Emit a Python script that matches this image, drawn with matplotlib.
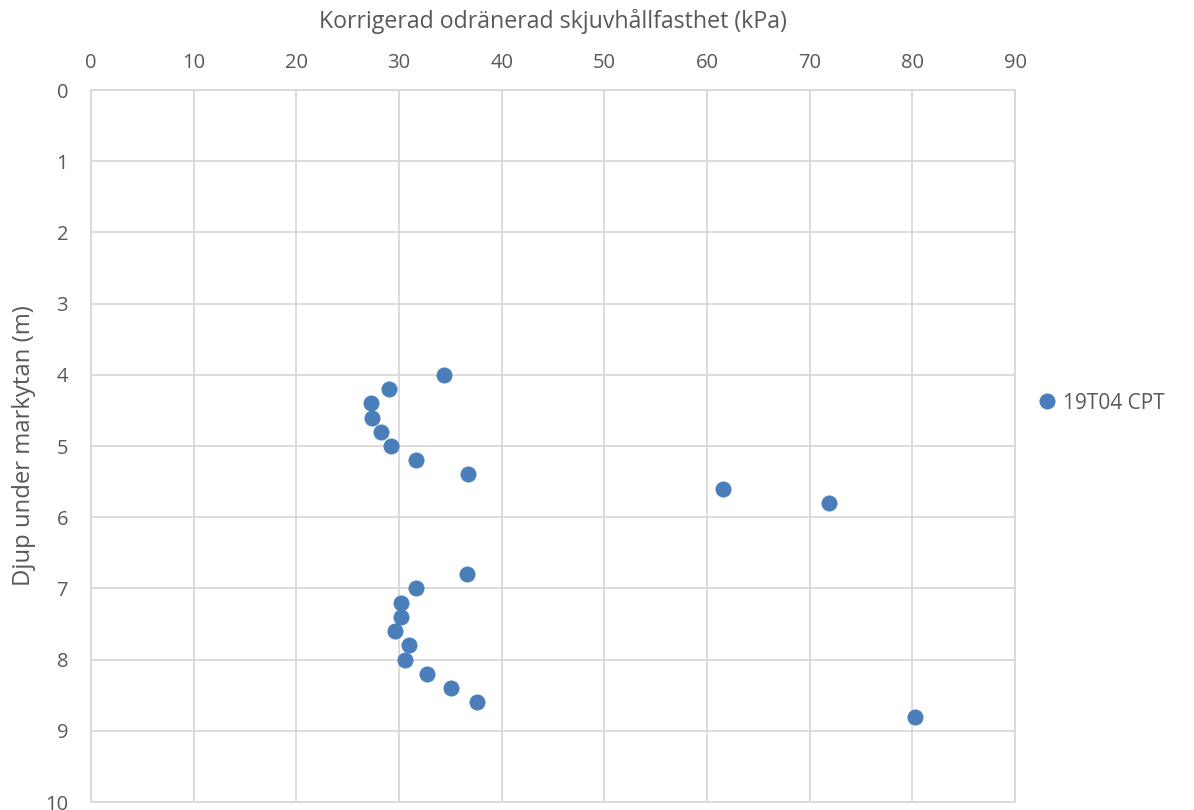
import matplotlib
matplotlib.use("Agg")
import matplotlib.pyplot as plt

# Corrected undrained shear strength (kPa) vs depth below ground surface (m)
series_name = "19T04 CPT"
depth_m = [4.0, 4.2, 4.4, 4.6, 4.8, 5.0, 5.2, 5.4, 5.6, 5.8,
           6.8, 7.0, 7.2, 7.4, 7.6, 7.8, 8.0, 8.2, 8.4, 8.6, 8.8]
strength_kpa = [34.4, 29.0, 27.3, 27.4, 28.2, 29.2, 31.7, 36.7, 61.6, 71.9,
                36.6, 31.7, 30.2, 30.2, 29.6, 31.0, 30.6, 32.7, 35.1, 37.6, 80.3]

x_ticks = list(range(0, 91, 10))
y_ticks = list(range(0, 11, 1))

plt.rcParams["font.family"] = ["Open Sans", "DejaVu Sans"]
text_color = "#595959"
grid_color = "#d9d9d9"
marker_color = "#4a7ebb"

fig = plt.figure(figsize=(11.94, 8.10), dpi=100)
ax = fig.add_axes([91 / 1194, 8 / 810, 924 / 1194, 712 / 810])

ax.plot(strength_kpa, depth_m, linestyle="none", marker="o", markersize=11,
        markerfacecolor=marker_color, markeredgecolor=marker_color,
        markeredgewidth=0.5, label=series_name, zorder=3)

ax.set_xlim(0, 90)
ax.set_ylim(10, 0)
ax.set_xticks(x_ticks)
ax.set_yticks(y_ticks)

ax.xaxis.set_ticks_position("top")
ax.xaxis.set_label_position("top")
ax.tick_params(axis="both", length=0, labelsize=14.5, colors=text_color)
ax.tick_params(axis="x", pad=12)
ax.tick_params(axis="y", pad=16.5)

ax.grid(True, color=grid_color, linewidth=1.3, zorder=0)
ax.set_axisbelow(True)
for spine in ax.spines.values():
    spine.set_color(grid_color)
    spine.set_linewidth(1.3)

ax.set_xlabel("Korrigerad odränerad skjuvhållfasthet (kPa)", fontsize=16.7,
              color=text_color, labelpad=18)
ax.set_ylabel("Djup under markytan (m)", fontsize=17.2, color=text_color)
ax.yaxis.set_label_coords(-0.059, 0.5)

leg = ax.legend(loc="center left", bbox_to_anchor=(1.0167, 0.560),
                frameon=False, fontsize=15, handletextpad=0.37,
                handlelength=0.8, borderaxespad=0, borderpad=0.4)
for t in leg.get_texts():
    t.set_color(text_color)

fig.savefig("out.png", dpi=100, facecolor="white")
